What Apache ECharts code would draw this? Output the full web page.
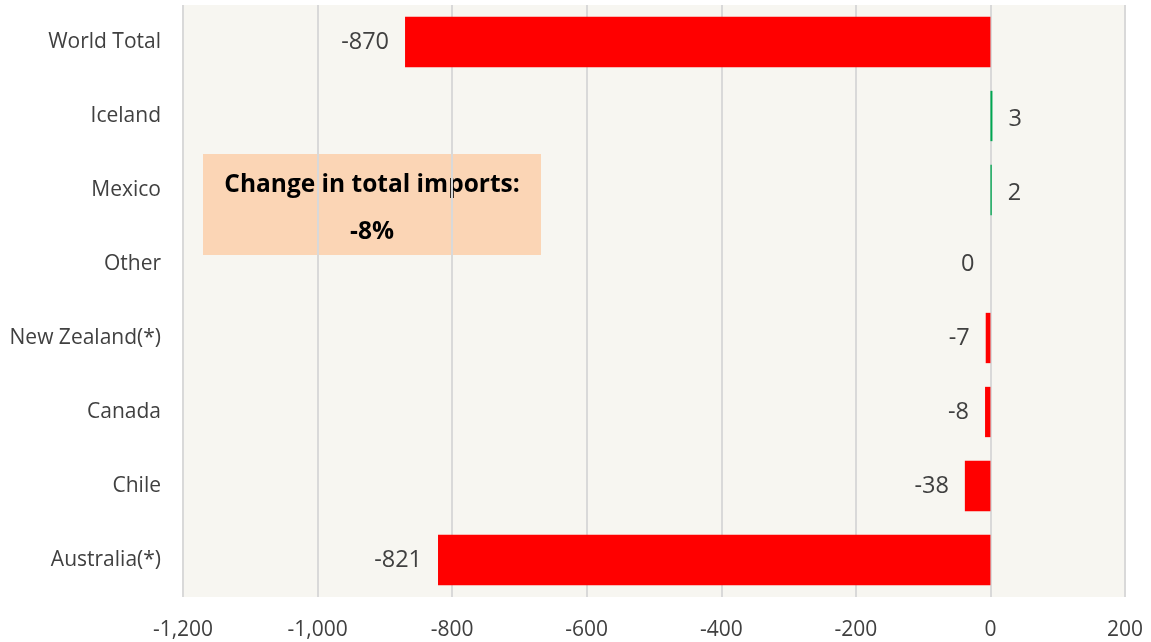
<!DOCTYPE html>
<html>
<head>
<meta charset="utf-8">
<script src="https://cdn.jsdelivr.net/npm/echarts@6/dist/echarts.min.js"></script>
<style>
html,body{margin:0;padding:0;background:#ffffff;}
#chart{width:1151px;height:642px;}
</style>
</head>
<body>
<div id="chart"></div>
<script>
// Categories listed bottom to top
var categories = ['Australia(*)', 'Chile', 'Canada', 'New Zealand(*)', 'Other', 'Mexico', 'Iceland', 'World Total'];
var values = [-821, -38, -8, -7, 0, 2, 3, -870];
var xTicks = { min: -1200, max: 200, interval: 200 };
var noteLines = ['Change in total imports:', '-8%'];

var chart = echarts.init(document.getElementById('chart'));
var font = '"Open Sans", "Noto Sans", sans-serif';

var barData = values.map(function (v) {
  var pos = v > 0 ? 'right' : 'left';
  return {
    value: v,
    itemStyle: { color: v > 0 ? '#00a651' : '#ff0000' },
    label: { position: pos, offset: v > 0 ? [0, 3] : [0, 0] }
  };
});

chart.setOption({
  backgroundColor: '#ffffff',
  animation: false,
  grid: {
    left: 183, right: 26, top: 5, bottom: 45,
    show: true, backgroundColor: '#f7f6f1', borderWidth: 0
  },
  xAxis: {
    type: 'value',
    min: xTicks.min, max: xTicks.max, interval: xTicks.interval,
    axisLine: { show: false },
    axisTick: { show: false },
    splitLine: { show: true, lineStyle: { color: '#d9d9d9', width: 2 } },
    axisLabel: {
      color: '#404040', fontSize: 21, fontFamily: font, margin: 23,
      formatter: function (v) { return v.toLocaleString('en-US'); }
    }
  },
  yAxis: {
    type: 'category',
    data: categories,
    axisLine: { show: false },
    axisTick: { show: false },
    splitLine: { show: false },
    axisLabel: { color: '#404040', fontSize: 21, fontFamily: font, margin: 22, padding: [2, 0, 0, 0] }
  },
  series: [{
    type: 'bar',
    data: barData,
    barWidth: '68%',
    label: {
      show: true,
      distance: 16,
      color: '#404040',
      fontSize: 23.5,
      fontFamily: font
    }
  }],
  graphic: [{
    type: 'group',
    left: 203, top: 154,
    children: [{
      type: 'rect',
      shape: { x: 0, y: 0, width: 338, height: 101 },
      style: { fill: '#fbd5b5' }
    }, {
      type: 'text',
      x: 169, y: 31,
      style: {
        text: noteLines[0], fill: '#000000', fontSize: 24.5, fontWeight: 'bold',
        fontFamily: font, align: 'center', verticalAlign: 'middle'
      }
    }, {
      type: 'text',
      x: 169, y: 78,
      style: {
        text: noteLines[1], fill: '#000000', fontSize: 24.5, fontWeight: 'bold',
        fontFamily: font, align: 'center', verticalAlign: 'middle'
      }
    }]
  }]
});
</script>
</body>
</html>
